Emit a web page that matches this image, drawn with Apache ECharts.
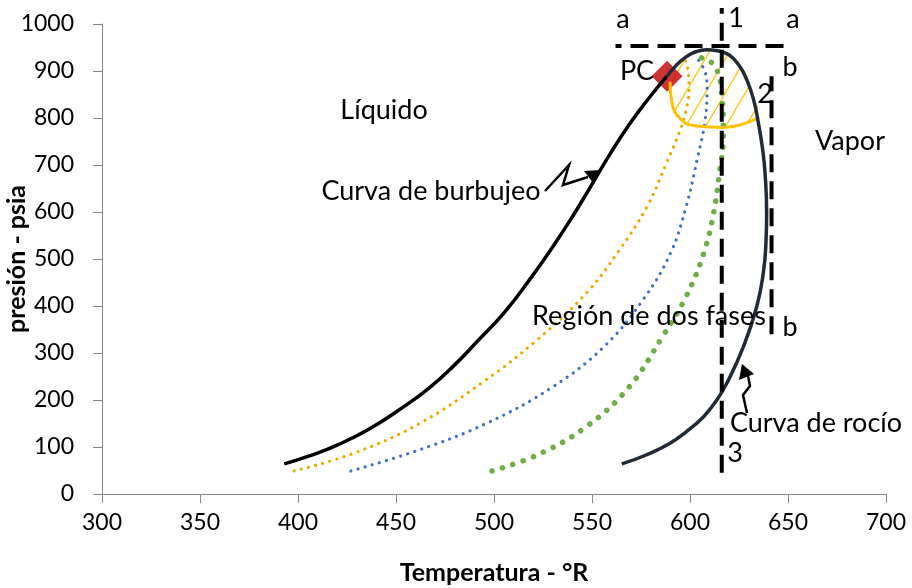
<!DOCTYPE html>
<html><head><meta charset="utf-8">
<script src="https://cdn.jsdelivr.net/npm/echarts@6/dist/echarts.min.js"></script>
<style>html,body{margin:0;padding:0;background:#fff}#c{width:912px;height:588px}</style>
</head><body><div id="c"></div>
<script>
// ---- data (Temperatura °R, presión psia) ----
const xTicks = [300, 350, 400, 450, 500, 550, 600, 650, 700];
const yTicks = [0, 100, 200, 300, 400, 500, 600, 700, 800, 900, 1000];

const bubbleT = [393, 405, 420, 437, 454, 467, 479, 492, 505, 518, 530, 540, 549, 559, 569, 579, 588];
const bubbleP = [64, 80, 104, 140, 186, 226, 271, 327, 385, 455, 526, 590, 652, 722, 786, 842, 888];

const dewT = [588, 593, 598, 603, 608.5, 614, 620, 625, 629, 632.5, 634.9, 637, 638.3, 639.1, 638.8, 637.4, 634, 627.2, 618.7, 613.3, 606.8, 598.5, 589.8, 577.6, 565.2];
const dewP = [888, 912, 930, 941, 945, 943, 934, 912, 881, 838, 789, 735, 682, 597, 540, 470, 398, 313, 235, 198, 164, 134, 108, 83, 64];

const orangeT = [398, 428, 462, 496, 522, 547, 564, 578, 588, 595, 598, 599.5, 599, 597];
const orangeP = [49, 86, 150, 243, 328, 427, 519, 611, 704, 774, 817, 860, 900, 930];

const blueT = [427, 462, 496, 530, 556, 576, 590, 598, 604, 607.5, 608.7, 607.7, 603];
const blueP = [49, 94, 150, 228, 313, 413, 512, 611, 718, 789, 860, 898, 930];

const greenT = [499, 522, 547, 569, 586, 598, 607, 612, 615, 617, 616, 613, 608, 602];
const greenP = [49, 83, 143, 228, 335, 420, 512, 597, 682, 760, 860, 908, 925, 930];

const criticalT = [588.3];
const criticalP = [889];

// boundary of the hatched zone (solid gold line)
const edgeT = [589.8, 590.6, 594.9, 603.4, 617, 634];
const edgeP = [877, 838, 799, 783, 780, 799];
// closing part along the dew curve
const hatchTopT = [635, 629, 620, 608.5, 598, 592];
const hatchTopP = [820, 881, 934, 945, 930, 905];

// guide lines
const line1T = [616.2, 616.2];   const line1P = [45, 1034];
const lineAT = [562, 651];       const lineAP = [953, 953];
const lineBT = [641.6, 641.6];   const lineBP = [340, 889];

const zip = (a, b) => a.map((v, i) => [v, b[i]]);

// hatch pattern
const pat = document.createElement('canvas');
pat.width = 20; pat.height = 34;
(function(){
  const g = pat.getContext('2d');
  g.strokeStyle = '#FFC000'; g.lineWidth = 1.2;
  g.beginPath();
  g.moveTo(-20, 68); g.lineTo(40, -34);
  g.moveTo(-40, 68); g.lineTo(20, -34);
  g.moveTo(0, 68); g.lineTo(60, -34);
  g.stroke();
})();

const chart = echarts.init(document.getElementById('c'), null, {renderer: 'canvas'});
const FONT = 'Lato';

const option = {
  animation: false,
  backgroundColor: '#fff',
  grid: {left: 102, right: 26, top: 24, bottom: 94, containLabel: false, outerBoundsMode: 'none'},
  xAxis: {
    type: 'value', min: xTicks[0], max: xTicks[xTicks.length - 1], interval: 50,
    name: 'Temperatura - °R', nameLocation: 'middle', nameGap: 66, nameMoveOverlap: false,
    nameTextStyle: {fontFamily: FONT, fontWeight: 'bold', fontSize: 25, color: '#000'},
    axisLine: {lineStyle: {color: '#868686', width: 1}},
    axisTick: {show: true, length: 9, lineStyle: {color: '#868686'}},
    axisLabel: {fontFamily: FONT, fontSize: 23, color: '#000', margin: 17, formatter: v => String(v)},
    splitLine: {show: false}
  },
  yAxis: {
    type: 'value', min: yTicks[0], max: yTicks[yTicks.length - 1], interval: 100,
    name: 'presión - psia', nameLocation: 'middle', nameGap: 73, nameRotate: 90, nameMoveOverlap: false,
    nameTextStyle: {fontFamily: FONT, fontWeight: 'bold', fontSize: 25, color: '#000'},
    axisLine: {show: true, lineStyle: {color: '#868686', width: 1}},
    axisTick: {show: true, length: 9, lineStyle: {color: '#868686'}},
    axisLabel: {fontFamily: FONT, fontSize: 23, color: '#000', margin: 28, formatter: v => String(v)},
    splitLine: {show: false}
  },
  series: [
    {
      type: 'custom', z: 1, silent: true, data: [0],
      renderItem: function (params, api) {
        const pts = zip(edgeT, edgeP).concat(zip(hatchTopT, hatchTopP)).map(p => api.coord(p));
        return {type: 'polygon', shape: {points: pts, smooth: 0.3},
          style: {fill: {image: pat, repeat: 'repeat'}, stroke: null}};
      }
    },
    {type: 'scatter', z: 2, data: zip(criticalT, criticalP), symbol: 'diamond', symbolSize: 31,
      itemStyle: {color: '#C00000'}},
    {type: 'line', z: 3, data: zip(orangeT, orangeP), smooth: 0.4, showSymbol: false,
      lineStyle: {color: '#EBAA00', width: 3.2, type: [0.1, 7.3], cap: 'round'}},
    {type: 'line', z: 3, data: zip(blueT, blueP), smooth: 0.4, showSymbol: false,
      lineStyle: {color: '#4472C4', width: 3.2, type: [0.1, 7.3], cap: 'round'}},
    {type: 'line', z: 3, data: zip(greenT, greenP), smooth: 0.4, showSymbol: false,
      lineStyle: {color: '#70AD47', width: 5.5, type: [0.1, 10.8], cap: 'round'}},
    {type: 'line', z: 4, data: zip(edgeT, edgeP), smooth: 0.5, showSymbol: false,
      lineStyle: {color: '#FFC000', width: 3}},
    {type: 'line', z: 5, data: zip(bubbleT, bubbleP), smooth: 0.5, showSymbol: false,
      lineStyle: {color: '#000000', width: 3.5}},
    {type: 'line', z: 5, data: zip(dewT, dewP), smooth: 0.5, showSymbol: false,
      lineStyle: {color: '#222A35', width: 3.5}},
    {type: 'line', z: 6, clip: false, data: zip(line1T, line1P), showSymbol: false,
      lineStyle: {color: '#000', width: 4, type: [18, 9]}},
    {type: 'line', z: 6, clip: false, data: zip(lineAT, lineAP), showSymbol: false,
      lineStyle: {color: '#000', width: 4, type: [18, 9], dashOffset: 12}},
    {type: 'line', z: 6, clip: false, data: zip(lineBT, lineBP), showSymbol: false,
      lineStyle: {color: '#000', width: 4, type: [18, 9]}}
  ]
};
chart.setOption(option);

const T = (text, x, y, size) => ({type: 'text', z: 20, style: {text: text, x: x, y: y,
  font: (size || 27) + 'px ' + FONT, fill: '#000', align: 'center', verticalAlign: 'middle'}});

chart.setOption({graphic: [
  T('a', 623, 19), T('a', 793, 19), T('1', 736, 18),
  T('b', 790, 67), T('b', 790, 327), T('2', 765, 94), T('3', 735, 453),
  T('PC', 637, 71),
  T('Líquido', 384, 110), T('Vapor', 850, 141),
  T('Curva de burbujeo', 431, 191), T('Región de dos fases', 649, 316),
  T('Curva de rocío', 816, 423),
  {type: 'polyline', z: 20, shape: {points: [[545, 191], [569, 165], [563, 185], [588, 177]]},
    style: {stroke: '#000', lineWidth: 2.5, fill: null}},
  {type: 'polygon', z: 20, shape: {points: [[601, 170], [584, 171], [594, 184]]},
    style: {fill: '#000'}},
  {type: 'polyline', z: 20, shape: {points: [[747, 413], [743, 395], [750, 386], [748, 376]]},
    style: {stroke: '#000', lineWidth: 2.5, fill: null}},
  {type: 'polygon', z: 20, shape: {points: [[742, 364], [739, 380], [754, 374]]},
    style: {fill: '#000'}}
]});
</script>
</body></html>
